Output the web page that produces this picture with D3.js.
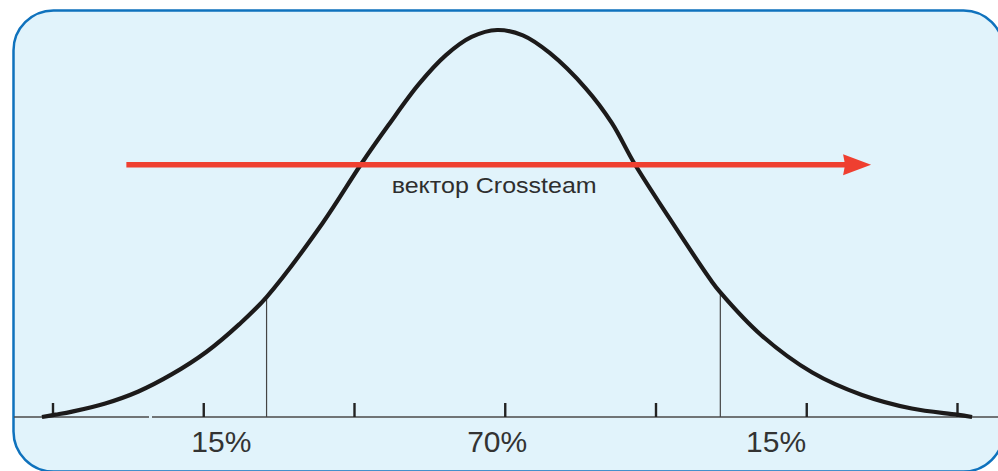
<!DOCTYPE html>
<html>
<head>
<meta charset="utf-8">
<script src="https://cdn.jsdelivr.net/npm/d3@7"></script>
<style>
  body { margin: 0; background: #fff; }
  svg { display: block; }
</style>
</head>
<body>
<div id="graph"></div>
<script>
let W = 998,
  H = 471;

// curve: x in sigma units, y as share of the peak
let curveX = [-3.07, -2.98, -2.87, -2.65, -2.43, -2.21, -1.98, -1.76, -1.58, -1.21, -0.95, -0.77, -0.57, -0.39, -0.22, -0.05, 0.12, 0.30, 0.54, 0.71, 0.86, 1.09, 1.37, 1.43, 1.70, 2.04, 2.37, 2.70, 3.00, 3.10];
let curveY = [0.0, 0.006, 0.014, 0.035, 0.066, 0.110, 0.168, 0.240, 0.310, 0.500, 0.655, 0.755, 0.860, 0.935, 0.982, 1.0, 0.986, 0.940, 0.848, 0.760, 0.655, 0.515, 0.352, 0.322, 0.212, 0.115, 0.057, 0.022, 0.006, 0.0];

let ticks = [-3, -2, -1, 0, 1, 2, 3];
let cutX = [-1.58, 1.43]; //  vertical cut lines
let cutY = [0.31, 0.32];
let labels = ["15%", "70%", "15%"];
let labelX = [-1.88, -0.05, 1.80];
let arrowX = [-2.51, 2.43];
let arrowY = 0.652;
let arrowText = "вектор Crossteam";
let arrowTextX = -0.75,
  arrowTextY = 0.579;

let svg = d3
  .select("#graph")
  .append("svg")
  .attr("width", W)
  .attr("height", H);

let x = d3.scaleLinear().domain([-3, 3]).range([52.5, 957]);
let y = d3.scaleLinear().domain([0, 1]).range([417, 30]);

// panel
svg.append("rect")
  .attr("x", 13.5)
  .attr("y", 10.5)
  .attr("width", 990)
  .attr("height", 461)
  .attr("rx", 40)
  .attr("ry", 40)
  .style("fill", "#e1f3fb")
  .style("stroke", "#0f72bd")
  .style("stroke-width", 2.5);

// axis baseline, with the small break near the left
svg.append("line")
  .attr("x1", 14).attr("x2", 149)
  .attr("y1", 417).attr("y2", 417)
  .style("stroke", "#4a4a4a")
  .style("stroke-width", 1.6);
svg.append("line")
  .attr("x1", 152).attr("x2", W)
  .attr("y1", 417).attr("y2", 417)
  .style("stroke", "#4a4a4a")
  .style("stroke-width", 1.6);

let axis = d3.axisTop(x)
  .tickValues(ticks)
  .tickSize(14)
  .tickFormat("");
let gAxis = svg.append("g")
  .attr("transform", "translate(0,417)")
  .call(axis);
gAxis.select(".domain").remove();
gAxis.selectAll(".tick line")
  .style("stroke", "#222")
  .style("stroke-width", 2.4);

// cut lines
svg.selectAll(".cut")
  .data(cutX)
  .enter()
  .append("line")
  .attr("class", "cut")
  .attr("x1", d => x(d))
  .attr("x2", d => x(d))
  .attr("y1", 417)
  .attr("y2", (d, i) => y(cutY[i]))
  .style("stroke", "#444")
  .style("stroke-width", 1.2);

// bell curve
let pts = curveX.map((d, i) => [d, curveY[i]]);
let line = d3.line()
  .x(d => x(d[0]))
  .y(d => y(d[1]))
  .curve(d3.curveCatmullRom.alpha(0.5));
svg.append("path")
  .attr("d", line(pts))
  .style("fill", "none")
  .style("stroke", "#1c1a1a")
  .style("stroke-width", 4.2)
  .style("stroke-linejoin", "round");

// labels
svg.selectAll(".lbl")
  .data(labels)
  .enter()
  .append("text")
  .attr("class", "lbl")
  .attr("x", (d, i) => x(labelX[i]))
  .attr("y", 452)
  .attr("text-anchor", "middle")
  .style("font-family", "Arial, 'Liberation Sans', sans-serif")
  .style("font-size", "30px")
  .style("fill", "#333")
  .text(d => d);

// arrow
let ay = y(arrowY);
svg.append("line")
  .attr("x1", x(arrowX[0]))
  .attr("x2", x(arrowX[1]) - 24)
  .attr("y1", ay)
  .attr("y2", ay)
  .style("stroke", "#ef3f30")
  .style("stroke-width", 5.5);
let tip = x(arrowX[1]);
svg.append("path")
  .attr("d", "M" + tip + "," + ay + "L" + (tip - 28) + "," + (ay - 10.5) + "L" + (tip - 26) + "," + ay + "L" + (tip - 28) + "," + (ay + 10.5) + "Z")
  .style("fill", "#ef3f30");

svg.append("text")
  .attr("x", x(arrowTextX))
  .attr("y", y(arrowTextY))
  .attr("textLength", 205)
  .attr("lengthAdjust", "spacingAndGlyphs")
  .style("font-family", "Arial, 'Liberation Sans', sans-serif")
  .style("font-size", "22.5px")
  .style("fill", "#2e2e2e")
  .text(arrowText);
</script>
</body>
</html>
